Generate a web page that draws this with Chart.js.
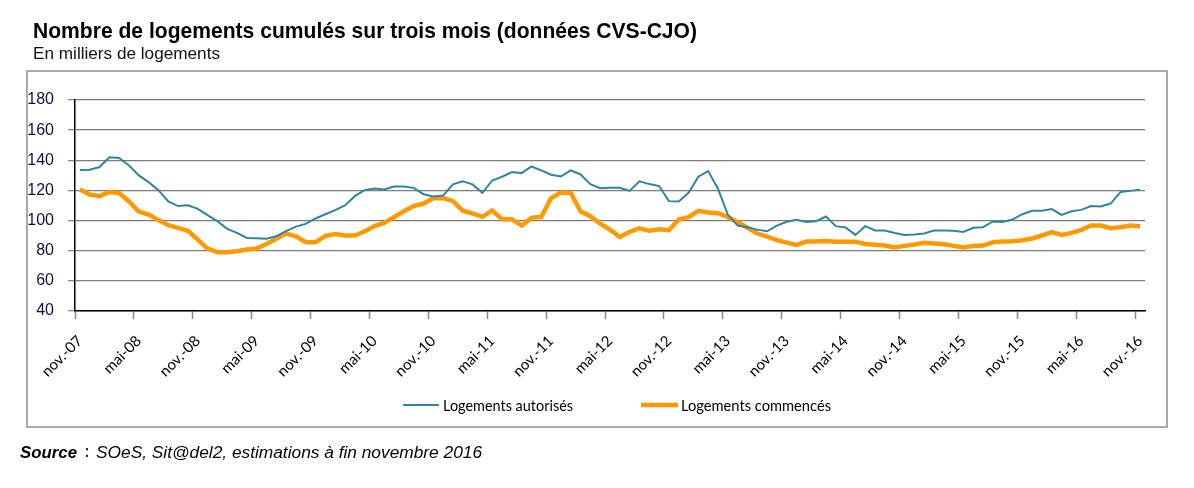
<!DOCTYPE html>
<html><head><meta charset="utf-8">
<script src="https://cdn.jsdelivr.net/npm/chart.js@4.4.0/dist/chart.umd.min.js"></script>
<style>html,body{margin:0;padding:0;background:#fff;}#c{display:block;}</style>
</head><body>
<canvas id="c" width="1194" height="488"></canvas>
<script>
// ---- categories (months nov-07 .. nov-16) ----
const MOIS = ['janv.','févr.','mars','avr.','mai','juin','juil.','août','sept.','oct.','nov.','déc.'];
const START_YEAR = 2007, START_MONTH = 10, N_MONTHS = 109, LABEL_EVERY = 6;
const categories = [];
for (let k = 0; k < N_MONTHS; k++) {
  const m = (START_MONTH + k) % 12;
  const y = START_YEAR + Math.floor((START_MONTH + k) / 12);
  categories.push(MOIS[m] + '-' + String(y % 100).padStart(2, '0'));
}
// ---- series (milliers de logements) ----
const autorises = [
  133.5,133.7,135.5,142,141.5,136.6,130,125.5,120.2,112.7,109.6,110.2,107.8,103.6,99.6,94.5,91.8,88.5,88.3,87.9,89.6,93,96,97.8,101.4,104.2,106.9,110,116.2,120.2,121.3,120.6,122.6,122.6,121.7,117.5,116,
  116.6,124,126,124,118.4,126.6,129.1,132.2,131.5,135.9,133.3,130.4,129.3,133.3,130.6,124.2,121.5,121.7,121.7,119.7,126,124.2,122.9,112.9,112.7,118.4,129.1,132.8,121.1,104,96.7,95.6,94,92.9,96.7,99.2,100.5,
  99,99.6,102.7,96.3,95.4,90.5,96.3,93.4,93.4,91.8,90.5,90.7,91.4,93.4,93.4,93.2,92.5,95.2,95.6,99.4,99,100.7,104.2,106.5,106.5,107.6,103.8,106.2,107.1,109.6,109.3,111.3,118.9,119.7,120.4
];
const commences = [
  120.6,117.3,116.2,118.9,118.2,112.7,106,104,100.3,96.9,95.2,93.2,87.4,81.4,79,79,79.7,80.8,81.4,84.5,88,91.4,89.6,85.6,85.6,89.8,91,90.1,90.1,92.7,96.3,98.5,102.3,106.2,109.6,111.3,114.8,
  114.9,112.9,106.5,104.7,102.5,106.7,100.9,100.9,96.7,101.8,102.5,114.9,118.6,118.4,106.2,102.9,98,94,89.1,92.5,94.9,93.2,94.3,93.6,100.7,102.3,106.5,105.4,104.9,102.5,98.9,95.2,91.4,89.4,87,85.4,83.9,
  86.1,86.1,86.5,85.9,85.9,85.9,84.5,83.9,83.4,82.1,83.2,84.1,85.2,84.8,84.3,83.2,82.1,83.2,83.4,85.6,86.1,86.3,87,88.1,90.1,92.3,90.5,91.8,93.8,96.7,96.7,94.9,95.6,96.7,96.3
];
const Y_MIN = 40, Y_MAX = 180, Y_STEP = 20;
const seriesNames = ['Logements autorisés', 'Logements commencés'];
const TITLE = 'Nombre de logements cumulés sur trois mois (données CVS-CJO)';
const SUBTITLE = 'En milliers de logements';
const SOURCE_LABEL = 'Source';
const SOURCE_TEXT = 'SOeS, Sit@del2, estimations à fin novembre 2016';

const TEAL = '#31859c', ORANGE = '#ff9900';

function fitText(ctx, text, x, y, w, font, color) {
  ctx.save();
  ctx.font = font; ctx.fillStyle = color || '#000';
  ctx.textBaseline = 'alphabetic'; ctx.textAlign = 'left';
  const m = ctx.measureText(text).width;
  ctx.translate(x, y); ctx.scale(w / m, 1);
  ctx.fillText(text, 0, 0);
  ctx.restore();
}

const decor = {
  id: 'decor',
  beforeDraw(chart) {
    const ctx = chart.ctx;
    ctx.save();
    ctx.fillStyle = '#fff'; ctx.fillRect(0, 0, chart.width, chart.height);
    ctx.strokeStyle = '#ababab'; ctx.lineWidth = 2;
    ctx.strokeRect(27, 71, 1140, 356);
    ctx.restore();
  },
  afterDraw(chart) {
    const ctx = chart.ctx;
    fitText(ctx, TITLE, 33, 38, 664, 'bold 22px "Liberation Sans", Arial, sans-serif', '#000');
    fitText(ctx, SUBTITLE, 33, 59, 187, '16px "Liberation Sans", Arial, sans-serif', '#111');
    fitText(ctx, SOURCE_LABEL, 20, 458, 57, 'italic bold 16px "Liberation Sans", Arial, sans-serif', '#000');
    fitText(ctx, ':', 85, 457, 4, 'bold 17px "Liberation Sans", Arial, sans-serif', '#000');
    fitText(ctx, SOURCE_TEXT, 96, 458, 386, 'italic 16px "Liberation Sans", Arial, sans-serif', '#000');
    // legend
    const ds = chart.data.datasets;
    const items = [{x0: 403, x1: 439, tx: 443, tw: 130}, {x0: 641, x1: 678, tx: 681, tw: 150}];
    ds.forEach((d, i) => {
      const it = items[i];
      ctx.save();
      ctx.strokeStyle = d.borderColor; ctx.lineWidth = d.borderWidth; ctx.lineCap = 'butt';
      ctx.beginPath(); ctx.moveTo(it.x0, 405); ctx.lineTo(it.x1, 405); ctx.stroke();
      ctx.restore();
      fitText(ctx, d.label, it.tx, 411, it.tw, '16px Lato, "Open Sans", sans-serif', '#000');
    });
  }
};

new Chart(document.getElementById('c'), {
  type: 'line',
  data: {
    labels: categories,
    datasets: [
      {label: seriesNames[0], data: autorises, borderColor: TEAL, borderWidth: 2, pointRadius: 0, tension: 0, fill: false},
      {label: seriesNames[1], data: commences, borderColor: ORANGE, borderWidth: 4.5, pointRadius: 0, tension: 0, fill: false}
    ]
  },
  options: {
    responsive: false, animation: false, devicePixelRatio: 1,
    layout: {padding: {top: 100, right: 49, left: 0, bottom: 0}},
    plugins: {legend: {display: false}, tooltip: {enabled: false}, title: {display: false}},
    scales: {
      x: {
        type: 'category', offset: true,
        grid: {display: true, offset: true, drawOnChartArea: false, drawTicks: true, tickLength: 8,
               tickWidth: 1.5, tickColor: c => (c.index % LABEL_EVERY === 0 ? '#8a8a8a' : 'rgba(0,0,0,0)')},
        border: {display: true, color: '#000', width: 1.5},
        ticks: {autoSkip: false, minRotation: 45, maxRotation: 45, padding: 13, color: '#000',
                font: {family: 'Lato, "Open Sans", sans-serif', size: 15},
                callback: (v, i) => (i % LABEL_EVERY === 0 ? categories[i] : '')},
        afterFit: s => { s.height = 177; }
      },
      y: {
        min: Y_MIN, max: Y_MAX,
        ticks: {stepSize: Y_STEP, padding: 14, color: '#10103a',
                font: {family: '"Liberation Sans", Arial, sans-serif', size: 16}},
        grid: {color: '#7d7d7d', lineWidth: 1.3, tickLength: 7, tickColor: '#8a8a8a'},
        border: {color: '#000', width: 1.5},
        afterFit: s => { s.width = 75; }
      }
    }
  },
  plugins: [decor]
});
</script>
</body></html>
